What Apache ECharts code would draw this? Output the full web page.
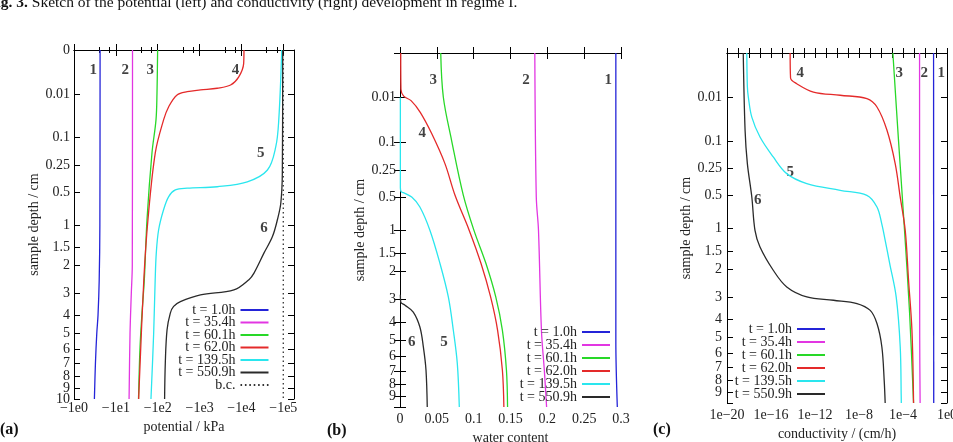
<!DOCTYPE html>
<html>
<head>
<meta charset="utf-8">
<script src="https://cdn.jsdelivr.net/npm/echarts@6/dist/echarts.min.js"></script>
<style>
  html, body { margin: 0; padding: 0; background: #fff; }
  #chart { width: 953px; height: 442px; }
</style>
</head>
<body>
<div id="chart"></div>
<script>
const seriesNames = ["t = 1.0h", "t = 35.4h", "t = 60.1h", "t = 62.0h", "t = 139.5h", "t = 550.9h"];
const lineColors = ["#2424d8", "#e236e2", "#28d828", "#e42a2a", "#2ae6ee", "#2a2a2a"];

const depthTicks = [0, 0.01, 0.1, 0.25, 0.5, 1, 1.5, 2, 3, 4, 5, 6, 7, 8, 9, 10];
const potentialTicks = [1, 10, 100, 1e3, 1e4, 1e5];
const conductivityLabelTicks = [1e-20, 1e-16, 1e-12, 1e-8, 1e-4, 1];
const conductivityTicks = [1e-20, 1e-19, 1e-18, 1e-17, 1e-16, 1e-15, 1e-14, 1e-13, 1e-12, 1e-11,
  1e-10, 1e-9, 1e-8, 1e-7, 1e-6, 1e-5, 1e-4, 1e-3, 1e-2, 1e-1, 1];

// (a) potential magnitude (kPa) vs depth (cm)
const potential1 = [[4.2, 0], [4.15, 1], [4.0, 2.5], [3.75, 4], [3.5, 5], [3.25, 7], [3.07, 10]];
const potential2 = [[25, 0], [24.7, 2], [23.4, 3], [21.8, 5], [20.7, 10]];
const potential3 = [[99.5, 0], [96, 0.01], [91, 0.047], [73, 0.17], [55.5, 0.9], [47.8, 2.5], [41.8, 4], [37.6, 6], [34.8, 10]];
const potential4 = [[11500, 0], [11300, 0.0002], [8570, 0.002], [5510, 0.0047], [2640, 0.0063], [1050, 0.0073],
  [505, 0.0084], [290, 0.0108], [183, 0.0234], [138, 0.047], [87.5, 0.17], [58.5, 0.9], [46.5, 2.5], [35, 10]];
const potential5 = [[92000, 0], [78000, 0.047], [66000, 0.14], [41800, 0.285], [13800, 0.39], [2640, 0.44],
  [505, 0.456], [264, 0.475], [183, 0.555], [138, 0.74], [105, 1.1], [92.5, 1.64], [87, 2.48], [80, 5], [69, 10]];
const potential6 = [[97000, 0], [95000, 0.3], [87300, 0.64], [72600, 0.9], [55100, 1.24], [34700, 1.64],
  [19950, 2.25], [15100, 2.48], [6610, 2.87], [1050, 3.07], [348, 3.36], [240, 3.58], [200, 3.9], [167, 4.8], [152, 6.9], [146, 10]];
const potentialBC = [[1e5, 0], [1e5, 10]];

// (b) water content vs depth
const content1 = [[0.293, 0], [0.293, 5], [0.295, 10]];
const content2 = [[0.183, 0], [0.185, 0.5], [0.188, 1.0], [0.192, 4.43], [0.196, 7], [0.199, 10]];
const content3 = [[0.0553, 0], [0.0588, 0.0096], [0.070, 0.094], [0.086, 0.48], [0.1004, 1.0], [0.1167, 1.77],
  [0.130, 2.89], [0.139, 4.43], [0.1445, 6.94], [0.146, 10]];
const content4 = [[0.001, 0], [0.0013, 0.005], [0.005, 0.009], [0.015, 0.0125], [0.0275, 0.026],
  [0.043, 0.072], [0.061, 0.207], [0.0747, 0.479], [0.094, 1.0], [0.110, 1.77], [0.123, 2.89], [0.1325, 4.43], [0.139, 6.94], [0.141, 10]];
const content5 = [[0.0005, 0.01], [0.0005, 0.4], [0.0015, 0.44], [0.0045, 0.45], [0.0159, 0.5], [0.027, 0.624],
  [0.0407, 1.0], [0.0543, 1.77], [0.0656, 2.89], [0.0724, 4.43], [0.0778, 6.47], [0.0805, 10]];
const content6 = [[0.0005, 2.8], [0.001, 3.1], [0.0068, 3.23], [0.018, 3.53], [0.027, 4.26], [0.0317, 5.38], [0.0353, 6.94], [0.037, 10]];

// (c) conductivity (cm/h) vs depth
const conductivity1 = [[0.06, 0], [0.062, 10]];
const conductivity2 = [[0.0032, 0], [0.0033, 5], [0.0036, 10]];
const conductivity3 = [[1.2e-5, 0], [3.9e-5, 0.098], [1.38e-4, 1.04], [4e-4, 3.74], [9.1e-4, 10]];
const conductivity4 = [[5.5e-15, 0], [6e-15, 0.0015], [2.2e-14, 0.003], [7.2e-13, 0.0067], [1.95e-10, 0.0087],
  [5.2e-8, 0.0112], [4.3e-7, 0.0197], [3.5e-6, 0.065], [1.95e-5, 0.215], [5.6e-5, 0.52], [1.6e-4, 1.04], [3.2e-4, 2.37], [6.5e-4, 4.6], [9.1e-4, 10]];
const conductivity5 = [[6.3e-19, 0], [7.1e-19, 0.004], [8.7e-19, 0.01], [1.8e-18, 0.035], [1e-17, 0.086], [1.6e-16, 0.175],
  [2.7e-15, 0.287], [1.8e-13, 0.374], [1.95e-10, 0.442], [5.2e-8, 0.498], [4.3e-7, 0.648], [1.16e-6, 0.911], [2.4e-6, 1.245],
  [6.2e-6, 1.84], [2.4e-5, 3.0], [5.6e-5, 5.59], [6.9e-5, 9.44], [7e-5, 10]];
const conductivity6 = [[3e-19, 0], [4.4e-19, 0.065], [7.1e-19, 0.215], [1.8e-18, 0.518], [3.5e-18, 1.036], [1e-17, 1.4],
  [1.6e-16, 2.04], [2.7e-15, 2.61], [1.8e-13, 3.0], [4.8e-11, 3.14], [6.5e-9, 3.28], [1.05e-7, 3.59], [4.3e-7, 4.24],
  [1.2e-6, 5.59], [1.95e-6, 8.0], [2.4e-6, 10]];

// curve numbers: [text, x value, depth]
const curveLabelsA = [["1", 2.9, 0.0007], ["2", 16.7, 0.0007], ["3", 66.5, 0.0007], ["4", 7260, 0.0007], ["5", 28900, 0.172], ["6", 34600, 1.064]];
const curveLabelsB = [["3", 0.0452, 0.0018], ["2", 0.171, 0.0018], ["1", 0.2828, 0.0018], ["4", 0.0303, 0.072], ["6", 0.0159, 5.08], ["5", 0.0597, 5.08]];
const curveLabelsC = [["4", 4.5e-14, 0.0007], ["3", 4.6e-5, 0.0007], ["2", 8.5e-3, 0.0007], ["1", 0.3, 0.0007], ["5", 5.5e-15, 0.274], ["6", 6.3e-18, 0.559]];

const SERIF = "'Liberation Serif', 'DejaVu Serif', serif";
const TXT = "#222";
const P = 0.3; // depth axis drawn on a power scale
const toU = d => Math.pow(d, P);
const pair = data => data.map(([x, d]) => [x, toU(d)]);
const MINUS = "\u2212";

function depthLabel(v) {
  const d = Math.pow(Math.max(v, 0), 1 / P);
  let best = depthTicks[0];
  depthTicks.forEach(t => { if (Math.abs(t - d) < Math.abs(best - d)) best = t; });
  return String(best);
}
const expOf = v => Math.round(Math.log10(v));

// the closely packed labels at the bottom would make the end-label check drop one,
// so the list handed to the axis ends on a label from the middle of the axis
function labelOrder(ticks) {
  const mid = ticks.indexOf(1);
  return ticks.slice(0, mid).concat(ticks.slice(mid + 1), [1]);
}

const labelFont = { fontFamily: SERIF, fontSize: 14, color: TXT };
const frameLine = { show: true, lineStyle: { color: "#000", width: 1 } };

function yPair(gi, labelTicks, nameGap, margin) {
  const base = { type: "value", gridIndex: gi, min: 0, max: toU(10), inverse: true, splitLine: { show: false }, axisLine: frameLine };
  const ticks = { show: true, inside: true, length: 6, customValues: depthTicks.map(toU), lineStyle: { color: "#000" } };
  return [
    Object.assign({}, base, {
      position: "left", name: "sample depth / cm", nameLocation: "middle", nameGap, nameRotate: 90,
      nameTextStyle: labelFont, axisTick: ticks,
      axisLabel: Object.assign({
        customValues: labelOrder(labelTicks).map(toU), formatter: depthLabel, margin,
        showMinLabel: true, showMaxLabel: true, hideOverlap: false
      }, labelFont)
    }),
    Object.assign({}, base, { position: "right", axisTick: ticks, axisLabel: { show: false } })
  ];
}

const xAxes = [
  // (a)
  {
    type: "log", logBase: 10, gridIndex: 0, min: 1, max: Math.pow(10, 5.256), position: "bottom",
    name: "potential / kPa", nameLocation: "middle", nameGap: 21, nameTextStyle: labelFont,
    axisLine: frameLine, splitLine: { show: false },
    axisTick: { inside: true, length: 6, customValues: potentialTicks, lineStyle: { color: "#000" } },
    minorTick: { show: true, splitNumber: 3, length: 3, lineStyle: { color: "#000" } },
    axisLabel: Object.assign({ customValues: potentialTicks, formatter: v => MINUS + "1e" + expOf(v), margin: 2 }, labelFont)
  },
  {
    type: "log", logBase: 10, gridIndex: 0, min: 1, max: Math.pow(10, 5.256), position: "top",
    axisLine: frameLine, splitLine: { show: false }, axisLabel: { show: false },
    axisTick: { inside: true, length: 6, customValues: potentialTicks, lineStyle: { color: "#000" } },
    minorTick: { show: true, splitNumber: 3, length: 3, lineStyle: { color: "#000" } }
  },
  // (b)
  {
    type: "value", gridIndex: 1, min: 0, max: 0.3, interval: 0.05, position: "bottom",
    name: "water content", nameLocation: "middle", nameGap: 15, nameTextStyle: labelFont,
    axisLine: frameLine, splitLine: { show: false },
    axisTick: { inside: true, length: 6, lineStyle: { color: "#000" } },
    axisLabel: Object.assign({ margin: 5 }, labelFont)
  },
  {
    type: "value", gridIndex: 1, min: 0, max: 0.3, interval: 0.05, position: "top",
    axisLine: frameLine, splitLine: { show: false }, axisLabel: { show: false },
    axisTick: { inside: true, length: 6, lineStyle: { color: "#000" } }
  },
  // (c)
  {
    type: "log", logBase: 10, gridIndex: 2, min: 1e-20, max: 1, position: "bottom",
    name: "conductivity / (cm/h)", nameLocation: "middle", nameGap: 14, nameTextStyle: labelFont,
    axisLine: frameLine, splitLine: { show: false },
    axisTick: { inside: true, length: 5, customValues: conductivityTicks, lineStyle: { color: "#000" } },
    axisLabel: Object.assign({ customValues: conductivityLabelTicks, formatter: v => "1e" + String(expOf(v)).replace("-", MINUS), margin: 5, showMaxLabel: true, hideOverlap: false }, labelFont)
  },
  {
    type: "log", logBase: 10, gridIndex: 2, min: 1e-20, max: 1, position: "top",
    axisLine: frameLine, splitLine: { show: false }, axisLabel: { show: false },
    axisTick: { inside: true, length: 5, customValues: conductivityTicks, lineStyle: { color: "#000" } }
  }
];

const yAxes = [].concat(
  yPair(0, depthTicks, 23, 4),
  yPair(1, depthTicks.slice(1, -1), 24, 4),
  yPair(2, depthTicks.slice(1, -1), 32, 5)
);

function curves(sets, axisIdx) {
  return sets.map((data, i) => ({
    type: "line", name: seriesNames[i], xAxisIndex: axisIdx, yAxisIndex: axisIdx,
    data: pair(data), showSymbol: false, symbol: "none", smooth: 0.35,
    lineStyle: { color: lineColors[i], width: 1.3 }, itemStyle: { color: lineColors[i] },
    emphasis: { disabled: true }
  }));
}

function numberLabels(list, axisIdx) {
  return {
    type: "scatter", xAxisIndex: axisIdx, yAxisIndex: axisIdx, silent: true, symbolSize: 0,
    data: list.map(([t, x, d]) => [x, toU(d), t]),
    label: { show: true, position: "inside", formatter: p => p.value[2], fontFamily: SERIF, fontWeight: "bold", fontSize: 15, color: "#111" }
  };
}

const series = [].concat(
  curves([potential1, potential2, potential3, potential4, potential5, potential6], 0),
  [{
    type: "line", name: "b.c.", xAxisIndex: 0, yAxisIndex: 0, data: pair(potentialBC), showSymbol: false, symbol: "none",
    lineStyle: { color: "#333", width: 1.3, type: [1.5, 3] }, itemStyle: { color: "#333" }, emphasis: { disabled: true }
  }],
  curves([content1, content2, content3, content4, content5, content6], 2),
  curves([conductivity1, conductivity2, conductivity3, conductivity4, conductivity5, conductivity6], 4),
  [numberLabels(curveLabelsA, 0), numberLabels(curveLabelsB, 2), numberLabels(curveLabelsC, 4)]
);

function legendFor(data, right, top, gap) {
  return {
    data, orient: "vertical", align: "right", right, top, itemGap: gap, itemWidth: 28, itemHeight: 2,
    icon: "rect", padding: 0, selectedMode: false,
    textStyle: { fontFamily: SERIF, fontSize: 14, color: TXT }
  };
}
const dots = "path://M0,0h1.6v2h-1.6zM4.4,0h1.6v2h-1.6zM8.8,0h1.6v2h-1.6zM13.2,0h1.6v2h-1.6zM17.6,0h1.6v2h-1.6zM22,0h1.6v2h-1.6zM26.4,0h1.6v2h-1.6z";

const grids = [
  { left: 74, top: 50, width: 220, height: 349 },
  { left: 400, top: 53, width: 221, height: 354 },
  { left: 727, top: 53, width: 220, height: 350 }
].map(g => Object.assign({ show: false, outerBoundsMode: "none", containLabel: false }, g));

const option = {
  animation: false,
  backgroundColor: "#fff",
  grid: grids,
  xAxis: xAxes,
  yAxis: yAxes,
  series,
  legend: [
    legendFor(seriesNames.concat([{ name: "b.c.", icon: dots }]), 953 - 268.5, 303, -1.5),
    legendFor(seriesNames, 953 - 610, 325, -1),
    legendFor(seriesNames, 953 - 825, 322, -1)
  ],
  graphic: [
    {
      type: "text", left: -13, top: -5,
      style: {
        text: "{b|Fig. 3.} Sketch of the potential (left) and conductivity (right) development in regime I.",
        font: "15.5px " + SERIF, fill: "#111",
        rich: { b: { fontFamily: SERIF, fontWeight: "bold", fontSize: 15.5, fill: "#111" } }
      }
    },
    { type: "text", left: 0, top: 422, style: { text: "(a)", font: "bold 16px " + SERIF, fill: "#111" } },
    { type: "text", left: 327, top: 423, style: { text: "(b)", font: "bold 16px " + SERIF, fill: "#111" } },
    { type: "text", left: 653, top: 422, style: { text: "(c)", font: "bold 16px " + SERIF, fill: "#111" } }
  ]
};

const chart = echarts.init(document.getElementById("chart"));
chart.setOption(option);
</script>
</body>
</html>
